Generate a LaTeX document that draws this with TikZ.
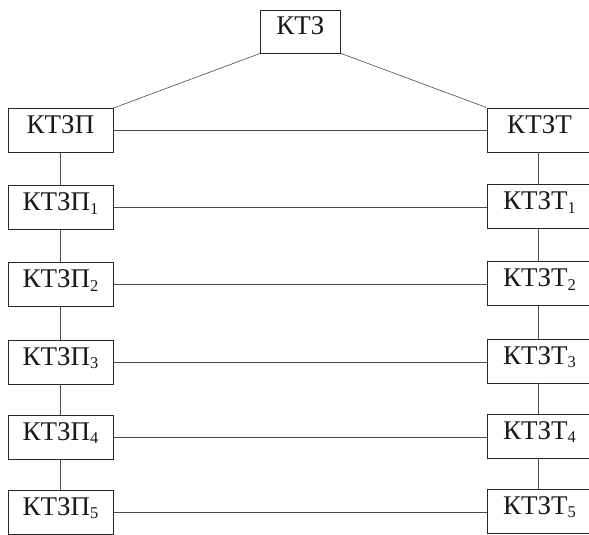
\documentclass[tikz,border=0pt]{standalone}
\usepackage{fontspec}
\setmainfont{Liberation Serif}
\newcommand{\lowidx}[1]{\raisebox{-3.5pt}{\fontsize{16.5}{17}\selectfont #1}}
\tikzset{
  blk/.style={draw=black!85, line width=0.9pt, rectangle, minimum width=105pt,
    minimum height=44pt, inner sep=0pt, text height=16pt, text depth=10pt,
    font=\fontsize{27}{30}\selectfont, text=black!90},
  top/.style={blk, minimum width=80pt, minimum height=43pt},
  link/.style={draw=black!70, line width=0.6pt}
}
\begin{document}
\begin{tikzpicture}[x=1pt,y=-1pt]
\useasboundingbox (0,0) rectangle (589,535);
\clip (0,0) rectangle (589,535);
\node[top] (k) at (300.5,31.5) {КТЗ};
\node[blk] (p0) at (60.5,130.5) {КТЗП};
\node[blk] (t0) at (539.5,130) {КТЗТ};
\foreach \i/\y in {1/207.5,2/284.5,3/362,4/437,5/512}{
  \node[blk] (p\i) at (60.5,\y) {КТЗП\lowidx{\i}};
  \node[blk] (t\i) at (539.5,\y-1) {КТЗТ\lowidx{\i}};
}
\draw[link] (k.south west) -- (p0.north east);
\draw[link] (k.south east) -- (t0.north west);
\foreach \i in {0,...,5}{
  \draw[link] (p\i.east) -- (p\i.east -| t\i.west);
}
\foreach \i/\j in {0/1,1/2,2/3,3/4,4/5}{
  \draw[link] (p\i.south) -- (p\j.north);
  \draw[link] ([xshift=-1.5pt]t\i.south) -- ([xshift=-1.5pt]t\j.north);
}
\end{tikzpicture}
\end{document}
